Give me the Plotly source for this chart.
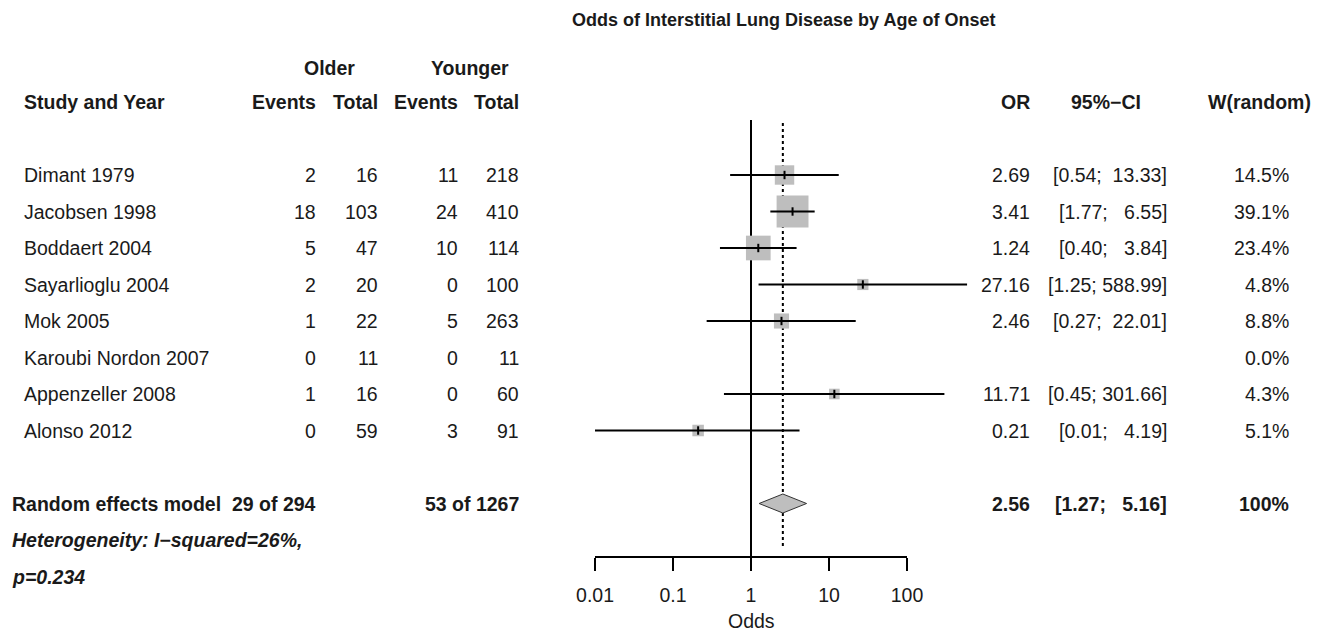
import plotly.graph_objects as go
import numpy as np

# ---------------- data ----------------
studies = ["Dimant 1979", "Jacobsen 1998", "Boddaert 2004", "Sayarlioglu 2004",
           "Mok 2005", "Karoubi Nordon 2007", "Appenzeller 2008", "Alonso 2012"]
older_events = [2, 18, 5, 2, 1, 0, 1, 0]
older_total = [16, 103, 47, 20, 22, 11, 16, 59]
younger_events = [11, 24, 10, 0, 5, 0, 0, 3]
younger_total = [218, 410, 114, 100, 263, 11, 60, 91]
odds_ratio = [2.69, 3.41, 1.24, 27.16, 2.46, None, 11.71, 0.21]
ci_lower = [0.54, 1.77, 0.40, 1.25, 0.27, None, 0.45, 0.01]
ci_upper = [13.33, 6.55, 3.84, 588.99, 22.01, None, 301.66, 4.19]
weight_random = [14.5, 39.1, 23.4, 4.8, 8.8, 0.0, 4.3, 5.1]

pooled_or = 2.56
pooled_lower = 1.27
pooled_upper = 5.16
pooled_older = "29 of 294"
pooled_younger = "53 of 1267"
pooled_weight = "100%"
heterogeneity = ["Heterogeneity: I\u2212squared=26%,", "p=0.234"]

tick_values = [0.01, 0.1, 1, 10, 100]
tick_labels = ["0.01", "0.1", "1", "10", "100"]
title_text = "Odds of Interstitial Lung Disease by Age of Onset"

# ---------------- layout helpers ----------------
W, H = 1315, 623          # figure size (page has 8px body margin)
OFF = 8
ROW0, ROWH = 175, 36.5    # page pixel of first study row, row spacing
X_ONE, DEC = 751, 78      # page pixel of OR=1, pixels per decade

def px(p):                 # page x pixel -> paper x
    return (p - OFF) / W

def row(p):                # page y pixel -> row units
    return (p - ROW0) / ROWH

def logx(p):               # page x pixel -> log10 value
    return (p - X_ONE) / DEC

FONT = "Liberation Sans, Arial, sans-serif"
TXT = "#1a1a1a"
FS = 19.5
GRAY = "rgb(190,190,190)"

fig = go.Figure()

n = len(studies)
ys = list(range(n))
y_pool = n + 1
axis_row = row(557)

# dotted line at pooled estimate
fig.add_trace(go.Scatter(x=[pooled_or, pooled_or], y=[row(123), row(549)], mode="lines",
                         line=dict(color="black", width=2, dash="dot"), hoverinfo="skip"))
# reference line at 1
fig.add_trace(go.Scatter(x=[1, 1], y=[row(120), axis_row], mode="lines",
                         line=dict(color="black", width=2), hoverinfo="skip"))
# axis baseline
fig.add_trace(go.Scatter(x=[tick_values[0], tick_values[-1]], y=[axis_row, axis_row], mode="lines",
                         line=dict(color="black", width=2), hoverinfo="skip"))

# weight squares
sq_x, sq_y, sq_s = [], [], []
for i in range(n):
    if odds_ratio[i] is not None:
        sq_x.append(odds_ratio[i]); sq_y.append(ys[i]); sq_s.append(5.1 * np.sqrt(weight_random[i]))
fig.add_trace(go.Scatter(x=sq_x, y=sq_y, mode="markers", opacity=1,
                         marker=dict(symbol="square", size=sq_s, color=GRAY, opacity=1,
                                     line=dict(width=0)),
                         hoverinfo="skip", cliponaxis=False))

# CI lines
cx, cy = [], []
for i in range(n):
    if odds_ratio[i] is not None:
        cx += [ci_lower[i], ci_upper[i], None]
        cy += [ys[i], ys[i], None]
fig.add_trace(go.Scatter(x=cx, y=cy, mode="lines", line=dict(color="black", width=2),
                         hoverinfo="skip"))

# point estimate ticks
fig.add_trace(go.Scatter(x=sq_x, y=sq_y, mode="markers",
                         marker=dict(symbol="line-ns", size=6, line=dict(color="black", width=2)),
                         hoverinfo="skip"))

# pooled diamond
dh = 9.5 / ROWH
fig.add_trace(go.Scatter(x=[pooled_lower, pooled_or, pooled_upper, pooled_or, pooled_lower],
                         y=[y_pool, y_pool - dh, y_pool, y_pool + dh, y_pool],
                         mode="lines", fill="toself", fillcolor=GRAY,
                         line=dict(color="#333333", width=1), hoverinfo="skip"))

ann = []
def text(x, y, s, anchor="left", bold=False, italic=False, size=FS, xref="paper"):
    if italic:
        s = "<i>" + s + "</i>"
    if bold:
        s = "<b>" + s + "</b>"
    ann.append(dict(x=x, y=y, xref=xref, yref="y", text=s, showarrow=False,
                    xanchor=anchor, yanchor="middle",
                    font=dict(family=FONT, size=size, color=TXT)))

def fmt_ci(lo, hi):
    hs = f"{hi:.2f}"
    pad = 1 + (6 - len(hs))
    return f"[{lo:.2f};" + "\u00a0" * pad + hs + "]"

# title
text(px(783.5), row(20), title_text, anchor="center", bold=True, size=18)
# headers
text(px(329), row(68), "Older", anchor="center", bold=True)
text(px(470), row(68), "Younger", anchor="center", bold=True)
hy = row(102)
text(px(22), hy, "Study and Year", bold=True)
text(px(318), hy, "Events", anchor="right", bold=True)
text(px(380), hy, "Total", anchor="right", bold=True)
text(px(460), hy, "Events", anchor="right", bold=True)
text(px(521), hy, "Total", anchor="right", bold=True)
text(px(1032), hy, "OR", anchor="right", bold=True)
text(px(1106), hy, "95%\u2212CI", anchor="center", bold=True)
text(px(1313), hy, "W(random)", anchor="right", bold=True)

for i in range(n):
    y = ys[i]
    text(px(22), y, studies[i])
    text(px(318), y, str(older_events[i]), anchor="right")
    text(px(380), y, str(older_total[i]), anchor="right")
    text(px(460), y, str(younger_events[i]), anchor="right")
    text(px(521), y, str(younger_total[i]), anchor="right")
    if odds_ratio[i] is not None:
        text(px(1032), y, f"{odds_ratio[i]:.2f}", anchor="right")
        text(px(1169), y, fmt_ci(ci_lower[i], ci_upper[i]), anchor="right")
    text(px(1291), y, f"{weight_random[i]:.1f}%", anchor="right")

# pooled row
text(px(10), y_pool, "Random effects model", bold=True)
text(px(318), y_pool, pooled_older, anchor="right", bold=True)
text(px(521), y_pool, pooled_younger, anchor="right", bold=True)
text(px(1032), y_pool, f"{pooled_or:.2f}", anchor="right", bold=True)
text(px(1169), y_pool, fmt_ci(pooled_lower, pooled_upper), anchor="right", bold=True)
text(px(1291), y_pool, pooled_weight, anchor="right", bold=True)
text(px(10), y_pool + 1, heterogeneity[0], bold=True, italic=True)
text(px(10), y_pool + 2, heterogeneity[1], bold=True, italic=True)

# x-axis title (annotation x on a log axis is given in log10 units)
text(np.log10(1), row(621), "Odds", anchor="center", xref="x")

fig.update_layout(
    width=W, height=H, autosize=False,
    margin=dict(l=0, r=0, t=0, b=0, pad=0),
    paper_bgcolor="white", plot_bgcolor="white",
    showlegend=False,
    annotations=ann,
    xaxis=dict(type="log", range=[logx(OFF), logx(OFF + W)], domain=[0, 1],
               anchor="free", position=1 - (557 - OFF) / H,
               tickvals=tick_values, ticktext=tick_labels,
               ticks="outside", ticklen=13, tickwidth=2, tickcolor="black",
               ticklabelstandoff=8,
               showgrid=False, zeroline=False, showline=False,
               tickfont=dict(family=FONT, size=FS, color=TXT), fixedrange=True),
    yaxis=dict(range=[row(OFF + H), row(OFF)], visible=False, showgrid=False,
               zeroline=False, fixedrange=True),
)

fig.write_html("out.html")
